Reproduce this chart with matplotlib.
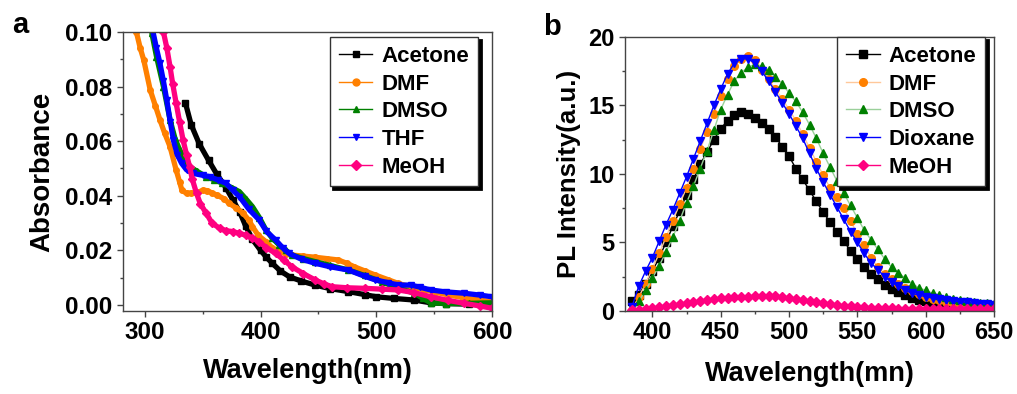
import matplotlib
matplotlib.use("Agg")
import matplotlib.pyplot as plt
from matplotlib.ticker import MultipleLocator

plt.rcParams['font.family'] = ['Liberation Sans', 'DejaVu Sans']
plt.rcParams['font.weight'] = 'bold'

# ---- panel a: absorbance ----
abs_labels = ["Acetone", "DMF", "DMSO", "THF", "MeOH"]

acetone_wl = [335, 340, 347, 355, 362, 370, 376, 382, 387, 393, 400, 405, 410, 417, 425, 435, 447,
              460, 476, 490, 500, 515, 533, 547, 560, 580, 600]
acetone_abs = [0.074, 0.066, 0.059, 0.053, 0.048, 0.043, 0.0385, 0.034, 0.029, 0.024, 0.020, 0.0175,
               0.0153, 0.0125, 0.0103, 0.0088, 0.0073, 0.006, 0.0049, 0.0038, 0.003, 0.0024, 0.0018,
               0.0008, 0.0005, 0.0003, 0.0002]

dmf_wl = [292.6, 296, 299, 304.6, 309, 313, 317, 321.7, 327, 330, 332, 336, 340, 344.6, 350, 354, 358,
          362, 368, 373, 379, 385, 390, 393, 398, 404.6, 410, 416, 422, 427, 437, 447, 457, 467, 475,
          481, 490, 499, 510, 519, 530, 542, 552, 562, 575, 587, 600]
dmf_abs = [0.100, 0.094, 0.0897, 0.0787, 0.073, 0.0678, 0.063, 0.058, 0.0494, 0.045, 0.042, 0.0409,
           0.041, 0.0411, 0.042, 0.0419, 0.041, 0.0403, 0.039, 0.0372, 0.0355, 0.0336, 0.031, 0.0287,
           0.0255, 0.0232, 0.021, 0.0195, 0.0188, 0.0183, 0.0179, 0.0175, 0.017, 0.0165, 0.0152, 0.014,
           0.0125, 0.011, 0.0093, 0.0079, 0.0066, 0.0055, 0.0046, 0.0037, 0.0027, 0.0019, 0.0012]

dmso_wl = [306, 310, 316, 321.7, 326, 330, 334, 338.6, 345, 353, 360, 367, 375, 381.7, 387, 393, 399,
           404.6, 410, 416, 422, 427, 437, 447, 460, 476, 490, 504.6, 519, 533, 540, 547, 560, 580, 600]
dmso_abs = [0.0995, 0.091, 0.080, 0.0678, 0.061, 0.0568, 0.053, 0.0507, 0.049, 0.047, 0.0458, 0.0446,
            0.043, 0.0415, 0.039, 0.036, 0.032, 0.0275, 0.0245, 0.022, 0.020, 0.0183, 0.017, 0.0159,
            0.0145, 0.0128, 0.0108, 0.0085, 0.0062, 0.0043, 0.0025, 0.0008, 0.0005, 0.0006, 0.0008]

thf_wl = [307, 310, 313, 316, 318.9, 322, 324.6, 328, 331.7, 336, 341.7, 350, 356, 363, 370, 376, 381.7,
          390, 398.9, 405, 413, 419, 424.6, 435, 447, 460, 476, 490, 499, 510, 519, 530, 538, 547, 560,
          576, 590, 600]
thf_abs = [0.100, 0.094, 0.0885, 0.082, 0.075, 0.067, 0.0604, 0.055, 0.0519, 0.0495, 0.0482, 0.0475,
           0.047, 0.0458, 0.0446, 0.042, 0.0397, 0.035, 0.0311, 0.027, 0.0238, 0.021, 0.0189, 0.0168,
           0.0153, 0.014, 0.0128, 0.0105, 0.0092, 0.0082, 0.0073, 0.0073, 0.0065, 0.0055, 0.0048,
           0.0043, 0.0036, 0.003]

meoh_wl = [316, 319, 321.7, 324, 327, 330, 333, 336, 338.6, 341, 344.6, 348, 353, 358, 364.6, 370, 376,
           381, 387, 393, 398.6, 405, 413, 420, 427, 437, 447, 455, 461.7, 475, 490, 505, 519, 533, 547,
           562, 576, 590, 600]
meoh_abs = [0.100, 0.094, 0.0873, 0.081, 0.0739, 0.067, 0.0604, 0.055, 0.0507, 0.046, 0.0409, 0.037,
            0.0336, 0.030, 0.0281, 0.0272, 0.0269, 0.0263, 0.0256, 0.0245, 0.0232, 0.021, 0.0189,
            0.0165, 0.014, 0.0115, 0.0092, 0.0077, 0.0067, 0.0063, 0.0061, 0.0058, 0.0055, 0.0045,
            0.003, 0.0017, 0.0006, -0.0004, -0.0012]

# ---- panel b: PL ----
pl_labels = ["Acetone", "DMF", "DMSO", "Dioxane", "MeOH"]
pl_wl = [385, 390, 395, 400, 405, 410, 415, 420, 425, 430, 435, 440, 445, 450, 455, 460, 465, 470,
         475, 480, 485, 490, 495, 500, 505, 510, 515, 520, 525, 530, 535, 540, 545, 550, 555, 560,
         565, 570, 575, 580, 585, 590, 595, 600, 605, 610, 615, 620, 625, 630, 635, 640, 645, 650]
pl_acetone = [0.7, 1.2, 2.0, 2.9, 3.9, 5.0, 6.2, 7.3, 8.5, 9.6, 10.7, 11.6, 12.5, 13.3, 13.9, 14.3,
              14.5, 14.4, 14.1, 13.7, 13.3, 12.7, 12.0, 11.3, 10.4, 9.6, 8.8, 8.0, 7.2, 6.5, 5.8, 5.1,
              4.4, 3.8, 3.2, 2.7, 2.3, 1.9, 1.6, 1.35, 1.15, 0.95, 0.8, 0.7, 0.6, 0.5, 0.42, 0.35, 0.3,
              0.24, 0.18, 0.13, 0.1, 0.08]
pl_dmf = [0.1, 1.0, 2.0, 3.1, 4.2, 5.4, 6.6, 7.8, 9.0, 10.4, 11.8, 13.1, 14.4, 15.7, 16.9, 17.9, 18.4,
          18.6, 18.3, 17.6, 16.9, 16.2, 15.5, 14.7, 13.9, 12.9, 11.9, 10.9, 9.9, 9.0, 8.3, 7.5, 6.6,
          5.6, 4.8, 3.9, 3.2, 2.7, 2.3, 1.95, 1.7, 1.45, 1.25, 1.05, 0.9, 0.78, 0.68, 0.58, 0.5, 0.42,
          0.35, 0.3, 0.25, 0.2]
pl_dmso = [0.0, 0.7, 1.5, 2.4, 3.3, 4.3, 5.4, 6.6, 7.9, 9.1, 10.4, 11.7, 13.2, 14.7, 15.8, 16.8, 17.4,
           17.8, 18.0, 17.9, 17.6, 17.1, 16.6, 15.9, 15.3, 14.5, 13.6, 12.6, 11.5, 10.5, 9.5, 8.6, 7.7,
           6.8, 5.9, 5.2, 4.5, 3.8, 3.2, 2.8, 2.4, 2.0, 1.7, 1.5, 1.3, 1.15, 1.0, 0.9, 0.8, 0.72, 0.65,
           0.6, 0.55, 0.5]
pl_dioxane = [0.3, 1.8, 2.9, 3.9, 5.1, 6.3, 7.4, 8.6, 9.8, 11.1, 12.4, 13.7, 15.0, 16.2, 17.3, 18.1,
              18.4, 18.4, 18.1, 17.5, 16.8, 16.0, 15.2, 14.4, 13.5, 12.6, 11.5, 10.4, 9.4, 8.5, 7.6,
              6.7, 5.8, 5.0, 4.2, 3.5, 3.0, 2.5, 2.1, 1.8, 1.5, 1.3, 1.15, 1.05, 0.95, 0.85, 0.78,
              0.72, 0.68, 0.62, 0.56, 0.52, 0.48, 0.44]
pl_meoh = [0.05, 0.1, 0.15, 0.2, 0.27, 0.35, 0.42, 0.5, 0.56, 0.65, 0.72, 0.8, 0.87, 0.92, 0.97, 1.0,
           1.03, 1.05, 1.07, 1.08, 1.08, 1.06, 1.0, 0.95, 0.9, 0.82, 0.74, 0.66, 0.58, 0.5, 0.44, 0.38,
           0.34, 0.3, 0.27, 0.24, 0.22, 0.2, 0.19, 0.18, 0.17, 0.16, 0.15, 0.14, 0.13, 0.13, 0.12,
           0.12, 0.12, 0.12, 0.11, 0.11, 0.11, 0.11]

colors = ['#000000', '#FF8000', '#008000', '#0000FF', '#FF0080']
markers = ['s', 'o', '^', 'v', 'D']


def style_axes(ax, size):
    for sp in ax.spines.values():
        sp.set_color('#444444')
        sp.set_linewidth(1.0)
    ax.tick_params(which='both', direction='out', top=False, right=False, color='#444444',
                   labelsize=size, width=1.0)
    ax.tick_params(which='major', length=4)
    ax.tick_params(which='minor', length=2.5)


def add_legend(ax, anchor):
    leg = ax.legend(loc='upper right', bbox_to_anchor=anchor, borderaxespad=0, fancybox=False,
                    shadow={'color': 'black', 'alpha': 1, 'linewidth': 2}, numpoints=1,
                    prop={'size': 16, 'weight': 'bold'}, handlelength=1.5, handletextpad=0.4,
                    labelspacing=0.3, borderpad=0.4, framealpha=1)
    leg.get_frame().set_edgecolor('#333333')
    leg.get_frame().set_linewidth(1.0)
    return leg


fig = plt.figure(figsize=(10.17, 3.94), dpi=100)
ax1 = fig.add_axes([0.1209, 0.2107, 0.3628, 0.7081])
ax2 = fig.add_axes([0.6146, 0.2107, 0.3628, 0.6954])

series_a = [(acetone_wl, acetone_abs), (dmf_wl, dmf_abs), (dmso_wl, dmso_abs),
            (thf_wl, thf_abs), (meoh_wl, meoh_abs)]
for (x, y), c, m, lab in zip(series_a, colors, markers, abs_labels):
    ax1.plot(x, y, color=c, lw=3.8, solid_capstyle='round', solid_joinstyle='round')
    ax1.plot(x, y, color=c, lw=0, marker=m, ms=4, mec=c)
    # legend handle: thin line with small marker
    ax1.plot([], [], color=c, lw=1, marker=m, ms=5, mec=c, label=lab)

ax1.set_xlim(281, 600)
ax1.set_ylim(-0.0022, 0.1)
ax1.xaxis.set_major_locator(MultipleLocator(100))
ax1.xaxis.set_minor_locator(MultipleLocator(50))
ax1.yaxis.set_major_locator(MultipleLocator(0.02))
ax1.yaxis.set_minor_locator(MultipleLocator(0.01))
ax1.yaxis.set_major_formatter(plt.FormatStrFormatter('%.2f'))
style_axes(ax1, 17.5)
ax1.set_xlabel('Wavelength(nm)', fontsize=19.5, fontweight='bold', labelpad=10)
ax1.set_ylabel('Absorbance', fontsize=20, fontweight='bold', labelpad=7)
add_legend(ax1, (0.962, 0.982))

series_b = [pl_acetone, pl_dmf, pl_dmso, pl_dioxane, pl_meoh]
line_cols_b = ['#000000', '#FFC89A', '#9AD09A', '#0000FF', '#FF0080']
for y, c, lc, m, lab in zip(series_b, colors, line_cols_b, markers, pl_labels):
    ms = 5.5 if m != 'D' else 5
    ax2.plot(pl_wl, y, color=lc, lw=1, marker=m, ms=ms, mfc=c, mec=c, label=lab)

ax2.set_xlim(380, 650)
ax2.set_ylim(0, 20)
ax2.xaxis.set_major_locator(MultipleLocator(50))
ax2.xaxis.set_minor_locator(MultipleLocator(25))
ax2.yaxis.set_major_locator(MultipleLocator(5))
ax2.yaxis.set_minor_locator(MultipleLocator(2.5))
style_axes(ax2, 17)
ax2.set_xlabel('Wavelength(mn)', fontsize=19.5, fontweight='bold', labelpad=12)
ax2.set_ylabel('PL Intensity(a.u.)', fontsize=18.6, fontweight='bold', labelpad=5)
add_legend(ax2, (0.976, 1.0))

fig.text(0.0118, 0.916, 'a', fontsize=21, fontweight='bold', ha='left', va='baseline')
fig.text(0.534, 0.911, 'b', fontsize=21, fontweight='bold', ha='left', va='baseline')

fig.savefig('out.png', dpi=100)
